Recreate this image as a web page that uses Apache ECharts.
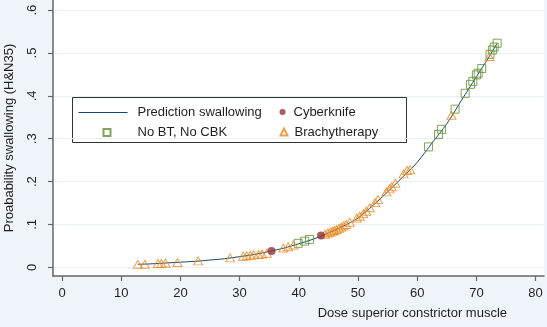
<!DOCTYPE html>
<html>
<head>
<meta charset="utf-8">
<script src="https://cdn.jsdelivr.net/npm/echarts@6/dist/echarts.min.js"></script>
<style>
html,body{margin:0;padding:0;background:#eef4f9;}
#chart{width:547px;height:327px;}
</style>
</head>
<body>
<div id="chart"></div>
<script>
// ---- data ----
const xTicks = [0, 10, 20, 30, 40, 50, 60, 70, 80];
const yTicks = [0, 0.1, 0.2, 0.3, 0.4, 0.5, 0.6];

const predX = [12.8, 15, 17.5, 20, 22.5, 25, 27.5, 30, 32.5, 35, 37.5, 40, 42.5, 45, 47.5, 50, 52.5, 55, 57.5, 60, 62.5, 65, 67.5, 70, 72, 73.5];
const predY = [0.007, 0.008, 0.010, 0.012, 0.014, 0.017, 0.020, 0.025, 0.030, 0.037, 0.045, 0.055, 0.066, 0.080, 0.096, 0.115, 0.144, 0.176, 0.210, 0.245, 0.290, 0.335, 0.390, 0.445, 0.488, 0.523];

const noBtX = [39.9, 41.0, 41.8, 61.9, 63.6, 64.1, 66.4, 68.1, 69.0, 69.4, 70.0, 70.3, 70.9, 72.3, 72.7, 73.0, 73.5];
const noBtY = [0.056, 0.061, 0.065, 0.281, 0.310, 0.322, 0.369, 0.406, 0.427, 0.434, 0.449, 0.453, 0.464, 0.497, 0.507, 0.514, 0.523];

const cbkX = [35.4, 43.75];
const cbkY = [0.038, 0.074];

const btX = [12.8, 14.0, 16.2, 16.8, 17.5, 19.5, 23.0, 28.4, 30.6, 31.2, 31.8, 32.4, 33.2, 33.8, 34.6, 37.4, 38.2, 39.1,
             44.4, 44.9, 45.3, 45.7, 46.0, 46.4, 46.8, 47.2, 47.6, 48.0, 48.6, 49.8, 50.3, 50.9, 51.4, 52.0, 52.9, 53.4,
             54.8, 55.3, 55.7, 56.3, 57.7, 58.3, 58.8, 65.8, 72.2];
const btY = [0.007, 0.007, 0.009, 0.009, 0.010, 0.011, 0.015, 0.022, 0.026, 0.027, 0.028, 0.029, 0.030, 0.031, 0.033, 0.045, 0.048, 0.052,
             0.077, 0.080, 0.082, 0.084, 0.086, 0.088, 0.091, 0.094, 0.097, 0.100, 0.105, 0.115, 0.119, 0.125, 0.131, 0.139, 0.151, 0.158,
             0.176, 0.183, 0.188, 0.196, 0.218, 0.226, 0.228, 0.355, 0.492];

const zip = (a, b) => a.map((v, i) => [v, b[i]]);

const FONT = 'Liberation Sans, Arial, Helvetica, sans-serif';
const TXT = '#1e1e1e';
const C_LINE = '#1a476f';
const C_GREEN = '#5f8f2e';
const C_RED = '#90353b';
const C_ORANGE = '#e8891f';

const chart = echarts.init(document.getElementById('chart'), null, {renderer: 'canvas'});

const legendBase = {
  orient: 'horizontal', padding: 0, itemGap: 0, selectedMode: false,
  textStyle: {fontFamily: FONT, fontSize: 13, color: TXT}
};

chart.setOption({
  backgroundColor: '#eef4f9',
  animation: false,
  textStyle: {fontFamily: FONT},
  grid: {left: 53, right: 3, top: 0, bottom: 51, outerBoundsMode: 'none', containLabel: false,
         show: true, backgroundColor: '#ffffff', borderWidth: 0},
  graphic: [{
    type: 'rect', left: 72, top: 97, z: 0,
    shape: {width: 334, height: 45},
    style: {fill: '#ffffff', stroke: '#333333', lineWidth: 1}
  }],
  legend: [
    Object.assign({}, legendBase, {
      data: [{name: 'Prediction swallowing', itemStyle: {color: 'rgba(0,0,0,0)', borderWidth: 0, opacity: 0}}],
      left: 78, top: 106, itemWidth: 49, itemHeight: 14,
      lineStyle: {color: C_LINE, width: 1},
      textStyle: Object.assign({}, legendBase.textStyle, {padding: [0, 0, 0, 5]})}),
    Object.assign({}, legendBase, {data: ['No BT, No CBK'], left: 102.5, top: 126, itemWidth: 7, itemHeight: 7,
      textStyle: Object.assign({}, legendBase.textStyle, {padding: [0, 0, 0, 22]})}),
    Object.assign({}, legendBase, {data: ['Cyberknife'], left: 279.5, top: 105.5, itemWidth: 6, itemHeight: 6,
      textStyle: Object.assign({}, legendBase.textStyle, {padding: [0, 0, 0, 3]})}),
    Object.assign({}, legendBase, {data: ['Brachytherapy'], left: 279.5, top: 125.5, itemWidth: 7, itemHeight: 7,
      textStyle: Object.assign({}, legendBase.textStyle, {padding: [0, 0, 0, 2]})})
  ],
  xAxis: {
    type: 'value', min: -1.52, max: 81.42,
    name: 'Dose superior constrictor muscle', nameLocation: 'end', nameGap: -37,
    nameTextStyle: {fontFamily: FONT, fontSize: 13, color: TXT, align: 'right', verticalAlign: 'top', padding: [31, 0, 0, 0]},
    axisLine: {show: true, onZero: false, lineStyle: {color: '#666666', width: 1.5}},
    axisTick: {show: true, length: 5, customValues: xTicks, lineStyle: {color: '#666666', width: 1.2}},
    axisLabel: {show: true, customValues: xTicks, margin: 11, fontFamily: FONT, fontSize: 13, color: TXT},
    splitLine: {show: false}
  },
  yAxis: {
    type: 'value', min: -0.0203, max: 0.6238,
    name: 'Proabability swallowing (H&N35)', nameLocation: 'middle', nameGap: 37,
    nameTextStyle: {fontFamily: FONT, fontSize: 13, color: TXT},
    axisLine: {show: true, onZero: false, lineStyle: {color: '#666666', width: 1.5}},
    axisTick: {show: true, length: 5, customValues: yTicks, lineStyle: {color: '#666666', width: 1.2}},
    axisLabel: {show: true, customValues: yTicks, rotate: 90, margin: 14, fontFamily: FONT, fontSize: 13, color: TXT,
      formatter: v => (v === 0 ? '0' : v.toFixed(1).replace(/^0/, ''))},
    splitLine: {show: true, lineStyle: {color: '#e9eff3', width: 1}}
  },
  series: [
    {
      name: 'Prediction swallowing', type: 'line', data: zip(predX, predY),
      symbol: 'none', smooth: 0.3, z: 2,
      lineStyle: {color: C_LINE, width: 1}, itemStyle: {color: C_LINE}
    },
    {
      name: 'No BT, No CBK', type: 'scatter', data: zip(noBtX, noBtY),
      symbol: 'rect', symbolSize: 8, z: 3,
      itemStyle: {color: 'rgba(0,0,0,0)', borderColor: C_GREEN, borderWidth: 1}
    },
    {
      name: 'Cyberknife', type: 'scatter', data: zip(cbkX, cbkY),
      symbol: 'circle', symbolSize: 8, z: 4,
      itemStyle: {color: C_RED, borderColor: C_RED, borderWidth: 0}
    },
    {
      name: 'Brachytherapy', type: 'scatter', data: zip(btX, btY),
      symbol: 'triangle', symbolSize: [9, 8], z: 3,
      itemStyle: {color: 'rgba(0,0,0,0)', borderColor: C_ORANGE, borderWidth: 1}
    }
  ]
});
</script>
</body>
</html>
